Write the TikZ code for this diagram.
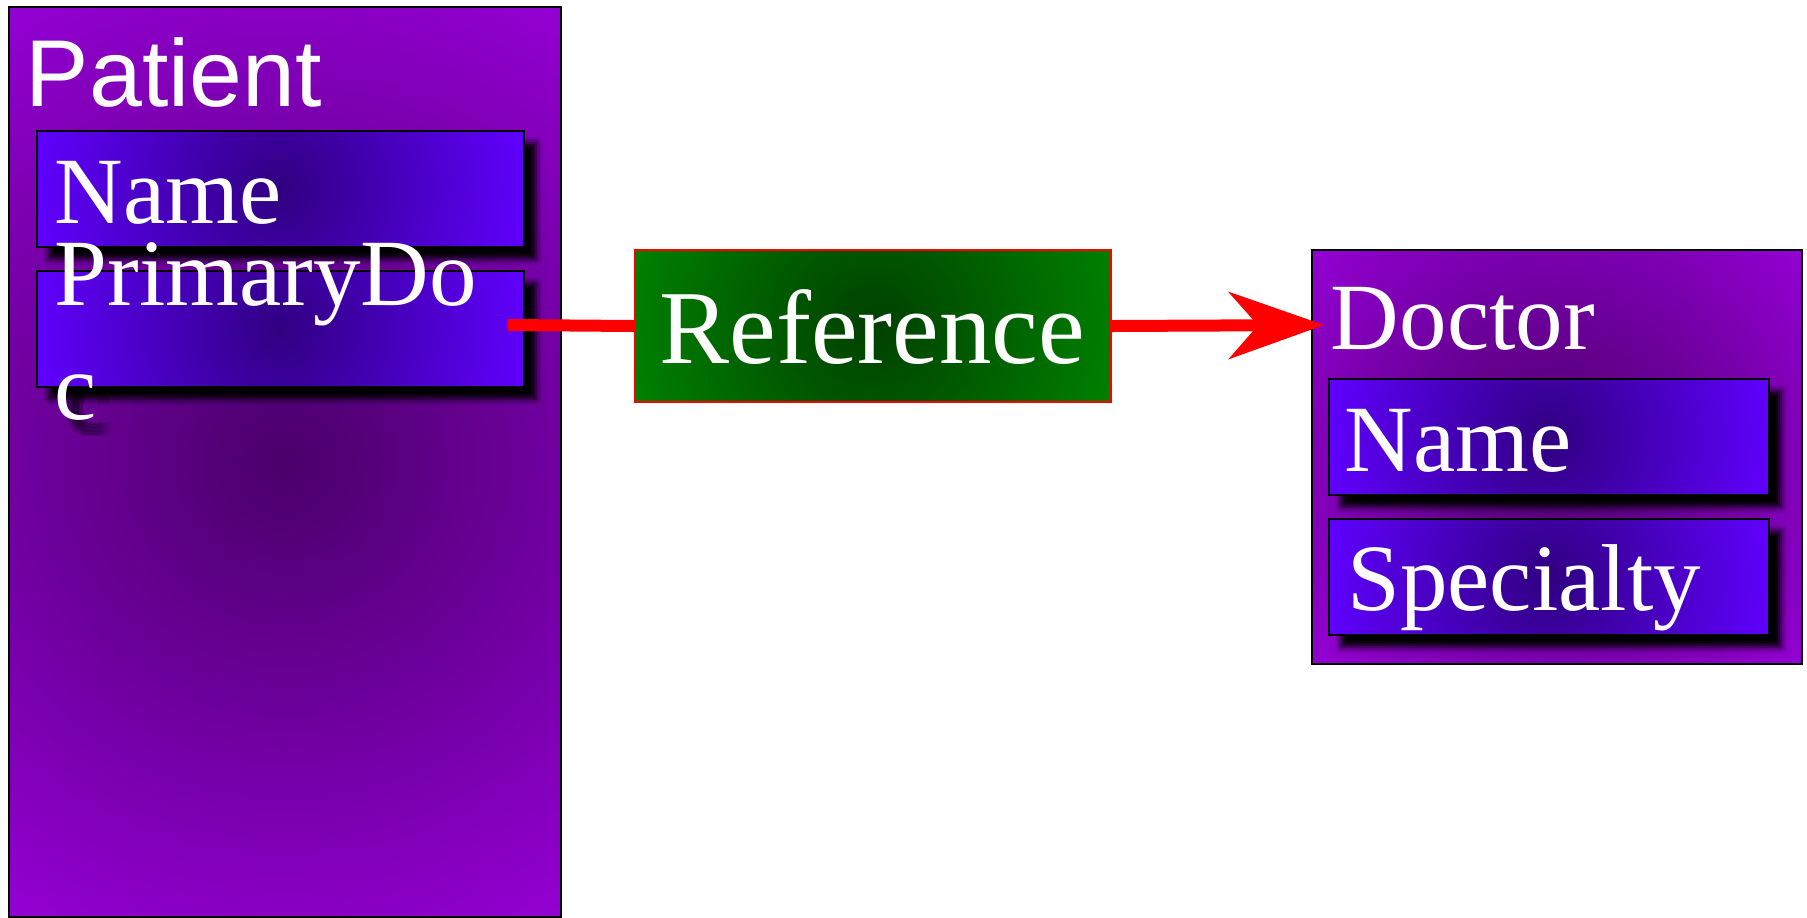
\documentclass[tikz,border=0pt]{standalone}
\usepackage{fontspec}
\setmainfont{Liberation Serif}
\newfontfamily\titlesans{Liberation Sans}
\usetikzlibrary{calc,arrows.meta,shadows.blur}

\definecolor{tableedge}{HTML}{9400D3}
\definecolor{tablecore}{HTML}{4A006A}
\definecolor{fieldedge}{HTML}{6000FF}
\definecolor{fieldcore}{HTML}{300080}
\definecolor{linkedge}{HTML}{008000}
\definecolor{linkcore}{HTML}{004000}

% stacked, slightly shifted copies of a text: a soft drop shadow
\newcommand\softshadow[1]{%
  \foreach \sx in {4,6,8}{\foreach \sy in {4,6,8}{%
    \makebox[0pt][l]{\hspace*{\sx pt}\raisebox{-\sy pt}{#1}}}}%
}

\tikzset{
  % circular glow: dark core at the centre, edge colour reached at the corners
  glow/.style 2 args={path picture={
    \shade[inner color=#1, outer color=#2]
      let \p1=($(path picture bounding box.north east)-(path picture bounding box.center)$),
          \n1={veclen(\x1,\y1)} in
      (path picture bounding box.center) circle (\n1);}},
  tablebox/.style={draw=black, line width=1pt, glow={tablecore}{tableedge},
    anchor=north west, inner sep=0pt},
  fieldbox/.style={draw=black, line width=1pt, glow={fieldcore}{fieldedge},
    anchor=north west, inner sep=0pt, minimum height=58pt,
    blur shadow={shadow xshift=6pt, shadow yshift=-6pt,
      shadow blur radius=3pt, shadow opacity=100}},
  linkbox/.style={draw=red, line width=1pt, glow={linkcore}{linkedge},
    anchor=north west, inner sep=0pt},
  fieldtext/.style={anchor=base west, inner sep=0pt, text=white,
    font=\fontsize{47.5pt}{57pt}\selectfont},
  titletext/.style={fieldtext, font=\titlesans\fontsize{47.5pt}{57pt}\selectfont},
  textshade/.style={fieldtext, text=black, text opacity=0.12},
  linkline/.style={draw=red, line width=6pt},
}

\begin{document}
\begin{tikzpicture}[x=0.5pt,y=-0.5pt]
  \fill[white] (0,0) rectangle (1807,917);
  \useasboundingbox (0,0) rectangle (1807,917);

  % Patient table
  \node[tablebox, minimum width=276pt, minimum height=455pt] (patient) at (8,6) {};
  \node[titletext] (patienttitle) at (25.5,106) {Patient};

  \node[fieldbox, minimum width=243.5pt] (pname) at (36,130) {};
  \node[fieldtext] (pnametext) at (54.5,223) {Name};

  % the wrapped field text spills below its box and casts a soft shadow
  \node[textshade] (pdshade) at (54.5,419) {\softshadow{c}};
  \node[fieldbox, minimum width=243.5pt] (pdoc) at (36,270) {};
  \node[fieldtext] (pdoctext) at (54.5,305) {PrimaryDo};
  \node[fieldtext] (pdoctextb) at (54.5,419) {c};

  % Reference link
  \node[linkbox, minimum width=238pt, minimum height=76pt] (ref) at (634,249) {};
  \node[fieldtext, font=\fontsize{52.5pt}{63pt}\selectfont] (reftext) at (659,363) {Reference};

  % Doctor table
  \node[tablebox, minimum width=245pt, minimum height=207pt] (doctor) at (1311,249) {};
  \node[fieldtext] (doctortitle) at (1330.5,349) {Doctor};

  \node[fieldbox, minimum width=220pt] (dname) at (1328,378) {};
  \node[fieldtext] (dnametext) at (1344,471) {Name};

  \node[fieldbox, minimum width=220pt] (dspec) at (1328,518) {};
  \node[fieldtext] (dspectext) at (1347,610) {Specialty};

  % connectors
  \coordinate (pdport) at (508,325);
  \coordinate (doctip) at (1324,325);
  \draw[linkline] (pdport) -- (ref.west);
  \draw[linkline, -{Stealth[length=48pt, width=34pt, inset=15pt, line width=0pt]}]
    (ref.east) -- (doctip);
\end{tikzpicture}
\end{document}
